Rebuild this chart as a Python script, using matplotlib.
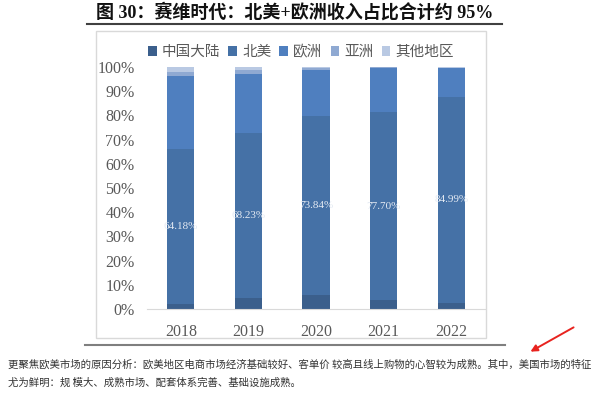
# coding: utf-8
"""Stacked revenue share by region, 2018-2022 (report screenshot style)."""

import matplotlib
matplotlib.use("Agg")
import matplotlib.pyplot as plt
from matplotlib.lines import Line2D
from matplotlib.patches import Rectangle
from matplotlib.ticker import PercentFormatter

plt.rcParams["font.family"] = ["Liberation Serif", "Noto Sans CJK SC", "DejaVu Sans"]

years = ["2018", "2019", "2020", "2021", "2022"]
regions = ["中国大陆", "北美", "欧洲", "亚洲", "其他地区"]
china = [2.0, 4.4, 5.8, 3.7, 2.6]
north_america = [64.18, 68.23, 73.84, 77.70, 84.99]
europe = [30.0, 24.6, 19.2, 18.2, 11.9]
asia = [1.9, 1.6, 0.8, 0.2, 0.3]
other = [1.92, 1.17, 0.36, 0.2, 0.21]

colors = ["#3b5f8c", "#4571a6", "#4f7fbf", "#8fa9d2", "#b9c9e3"]
W, H = 600, 398

fig = plt.figure(figsize=(6, 3.98), dpi=100)
ax = fig.add_axes([147 / W, (H - 309) / H, (485 - 147) / W, (309 - 67) / H])

series = [china, north_america, europe, asia, other]
bottom = [0.0] * len(years)
containers = []
for name, vals, col in zip(regions, series, colors):
    c = ax.bar(years, vals, width=0.4, bottom=bottom, color=col, label=name)
    containers.append(c)
    bottom = [b + v for b, v in zip(bottom, vals)]

ax.bar_label(containers[1], labels=[f"{v:.2f}%" for v in north_america],
             label_type="center", color="#e4eaf3", fontsize=8,
             family="Liberation Serif")

ax.set_xlim(-0.5, 4.5)
ax.set_ylim(0, 100)
ax.set_yticks(range(0, 101, 10))
ax.yaxis.set_major_formatter(PercentFormatter(decimals=0))
ax.tick_params(axis="both", length=0, colors="#595959", labelsize=11.5)
ax.tick_params(axis="y", pad=9)
ax.tick_params(axis="x", pad=11)
for s in ["top", "left", "right"]:
    ax.spines[s].set_visible(False)
ax.spines["bottom"].set_color("#d9d9d9")

fig.legend(handles=containers, labels=regions, loc="center", ncol=5,
           bbox_to_anchor=(301 / W, 1 - 52 / H), frameon=False,
           prop={"family": "Noto Sans CJK SC", "size": 10.5},
           labelcolor="#595959", handlelength=0.6, handleheight=0.6,
           handletextpad=0.35, columnspacing=0.55)

# chart frame and rules of the page
fig.add_artist(Rectangle((96 / W, (H - 338) / H), (486 - 96) / W, (338 - 31) / H,
                         transform=fig.transFigure, fill=False,
                         edgecolor="#d9d9d9", lw=1))
fig.add_artist(Line2D([87 / W, 502 / W], [1 - 24 / H] * 2, color="#404040", lw=1.5))
fig.add_artist(Line2D([85 / W, 505 / W], [1 - 345 / H] * 2, color="#7f7f7f", lw=1.5))

fig.text(295 / W, 1 - 12 / H, "图 30：赛维时代：北美+欧洲收入占比合计约 95%",
         ha="center", va="center", fontsize=13.0, fontweight="bold", color="#111111")

fig.text(8 / W, 1 - 365 / H,
         "更聚焦欧美市场的原因分析：欧美地区电商市场经济基础较好、客单价 较高且线上购物的心智较为成熟。其中，美国市场的特征",
         ha="left", va="center", fontsize=7.5, color="#333333",
         family=["Noto Sans CJK SC", "DejaVu Sans"])
fig.text(8 / W, 1 - 383 / H, "尤为鲜明：规 模大、成熟市场、配套体系完善、基础设施成熟。",
         ha="left", va="center", fontsize=7.5, color="#333333",
         family=["Noto Sans CJK SC", "DejaVu Sans"])

ax.annotate("", xy=(528 / W, 1 - 353 / H), xytext=(576 / W, 1 - 326 / H),
            xycoords="figure fraction", textcoords="figure fraction",
            annotation_clip=False,
            arrowprops=dict(arrowstyle="-|>", color="#e8231f", lw=1.4,
                            mutation_scale=10))

fig.savefig("out.png", dpi=100, facecolor="white")
